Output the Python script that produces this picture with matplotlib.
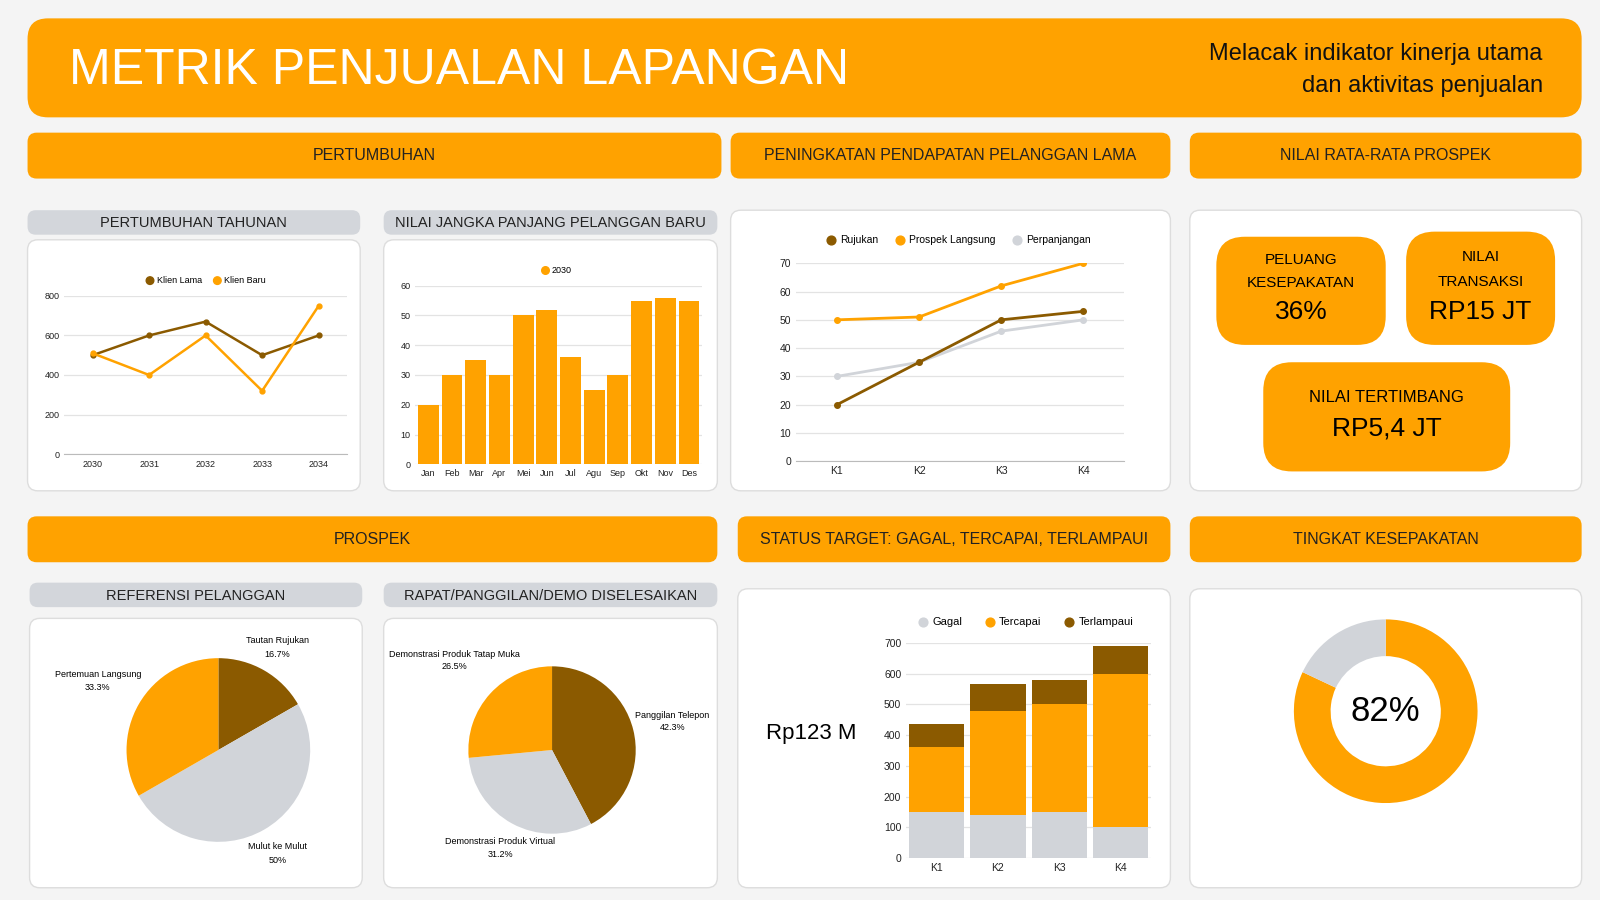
import matplotlib
matplotlib.use("Agg")
import matplotlib.pyplot as plt
from matplotlib.patches import FancyBboxPatch

plt.rcParams['font.family'] = ['Liberation Sans', 'DejaVu Sans']

ORANGE = '#FFA200'
BROWN = '#8B5A00'
GRAY = '#D1D4D9'
BG = '#F4F4F4'

years = ['2030', '2031', '2032', '2033', '2034']
klien_lama = [500, 600, 670, 500, 600]
klien_baru = [510, 400, 600, 320, 750]

months = ['Jan', 'Feb', 'Mar', 'Apr', 'Mei', 'Jun', 'Jul', 'Agu', 'Sep', 'Okt', 'Nov', 'Des']
ltv_2030 = [20, 30, 35, 30, 50, 52, 36, 25, 30, 55, 56, 55]

quarters = ['K1', 'K2', 'K3', 'K4']
rujukan = [20, 35, 50, 53]
prospek_langsung = [50, 51, 62, 70]
perpanjangan = [30, 35, 46, 50]

gagal = [150, 140, 150, 100]
tercapai = [210, 340, 350, 500]
terlampaui = [75, 85, 80, 90]

ref_labels = ['Tautan Rujukan', 'Mulut ke Mulut', 'Pertemuan Langsung']
ref_values = [16.7, 50.0, 33.3]
rapat_labels = ['Panggilan Telepon', 'Demonstrasi Produk Virtual', 'Demonstrasi Produk Tatap Muka']
rapat_values = [42.3, 31.2, 26.5]

deal_rate = 82

W, H = 1568, 882
fig = plt.figure(figsize=(16, 9), dpi=100, facecolor=BG)
ov = fig.add_axes([0, 0, 1, 1], zorder=0)
ov.set_xlim(0, W); ov.set_ylim(H, 0); ov.axis('off')

def box(x0, y0, x1, y1, fc, r=12, ec='none', lw=1):
    ov.add_patch(FancyBboxPatch((x0 + r, y0 + r), x1 - x0 - 2 * r, y1 - y0 - 2 * r,
                                boxstyle=f"round,pad={r}", fc=fc, ec=ec, lw=lw))

def ax_at(x0, y0, x1, y1):
    a = fig.add_axes([x0 / W, 1 - y1 / H, (x1 - x0) / W, (y1 - y0) / H], zorder=2)
    a.set_facecolor('none')
    return a

def style(a):
    for s in ['top', 'right', 'left']:
        a.spines[s].set_visible(False)
    a.spines['bottom'].set_color('#BBBBBB')
    a.tick_params(length=0, labelsize=6.5, colors='#222222')
    a.yaxis.grid(True, color='#E3E3E3', lw=0.9)
    a.set_axisbelow(True)

# header
box(27, 18, 1550, 115, ORANGE, r=20)
ov.text(68, 70, 'METRIK PENJUALAN LAPANGAN', color='white', fontsize=36, va='center')
ov.text(1512, 53, 'Melacak indikator kinerja utama', fontsize=17, ha='right', va='center', color='#111111')
ov.text(1512, 84, 'dan aktivitas penjualan', fontsize=17, ha='right', va='center', color='#111111')

# section headers
for (x0, y0, x1, y1, t) in [(27, 130, 707, 175, 'PERTUMBUHAN'),
                            (716, 130, 1147, 175, 'PENINGKATAN PENDAPATAN PELANGGAN LAMA'),
                            (1166, 130, 1550, 175, 'NILAI RATA-RATA PROSPEK'),
                            (27, 506, 703, 551, 'PROSPEK'),
                            (723, 506, 1147, 551, 'STATUS TARGET: GAGAL, TERCAPAI, TERLAMPAUI'),
                            (1166, 506, 1550, 551, 'TINGKAT KESEPAKATAN')]:
    box(x0, y0, x1, y1, ORANGE, r=9)
    ov.text((x0 + x1) / 2, (y0 + y1) / 2, t, ha='center', va='center', fontsize=11.5, color='#222222')

for (x0, y0, x1, y1, t) in [(27, 206, 353, 230, 'PERTUMBUHAN TAHUNAN'),
                            (376, 206, 703, 230, 'NILAI JANGKA PANJANG PELANGGAN BARU'),
                            (29, 571, 355, 595, 'REFERENSI PELANGGAN'),
                            (376, 571, 703, 595, 'RAPAT/PANGGILAN/DEMO DISELESAIKAN')]:
    box(x0, y0, x1, y1, '#D3D6DB', r=8)
    ov.text((x0 + x1) / 2, (y0 + y1) / 2 + 1, t, ha='center', va='center', fontsize=10.5, color='#222222')

for (x0, y0, x1, y1) in [(27, 235, 353, 481), (376, 235, 703, 481), (716, 206, 1147, 481),
                         (1166, 206, 1550, 481), (29, 606, 355, 870), (376, 606, 703, 870),
                         (723, 577, 1147, 870), (1166, 577, 1550, 870)]:
    box(x0, y0, x1, y1, 'white', r=10, ec='#DDDDDD', lw=1)

# line chart 1
a = ax_at(63, 290, 340, 445)
style(a)
x = range(len(years))
a.plot(x, klien_lama, color=BROWN, marker='o', ms=3.5, lw=1.8)
a.plot(x, klien_baru, color=ORANGE, marker='o', ms=3.5, lw=1.8)
a.set_xlim(-0.5, 4.5); a.set_ylim(0, 800)
a.set_yticks([0, 200, 400, 600, 800]); a.set_xticks(list(x)); a.set_xticklabels(years)
a.tick_params(axis='x', pad=4)
ov.scatter([147, 213], [275, 275], s=30, c=[BROWN, ORANGE])
ov.text(154, 275, 'Klien Lama', fontsize=6.5, va='center')
ov.text(220, 275, 'Klien Baru', fontsize=6.5, va='center')

# bar chart
a = ax_at(407, 280, 688, 455)
style(a)
a.bar(range(len(months)), ltv_2030, color=ORANGE, width=0.88)
a.set_xlim(-0.55, 11.55); a.set_ylim(0, 60)
a.set_yticks(range(0, 61, 10)); a.set_xticks(range(len(months))); a.set_xticklabels(months)
a.spines['bottom'].set_visible(False)
ov.scatter([534], [265], s=30, c=[ORANGE])
ov.text(541, 265, '2030', fontsize=6.5, va='center')

# line chart 2
a = ax_at(780, 258, 1102, 452)
style(a)
x = range(len(quarters))
a.plot(x, perpanjangan, color=GRAY, marker='o', ms=4, lw=2)
a.plot(x, rujukan, color=BROWN, marker='o', ms=4, lw=2)
a.plot(x, prospek_langsung, color=ORANGE, marker='o', ms=4, lw=2)
a.set_xlim(-0.5, 3.5); a.set_ylim(0, 70)
a.set_yticks(range(0, 71, 10)); a.set_xticks(list(x)); a.set_xticklabels(quarters)
a.tick_params(labelsize=7.5)
for cx, c, t in [(814, BROWN, 'Rujukan'), (882, ORANGE, 'Prospek Langsung'), (997, GRAY, 'Perpanjangan')]:
    ov.scatter([cx], [235], s=40, c=[c])
    ov.text(cx + 9, 235, t, fontsize=7.5, va='center')

# KPI boxes
box(1192, 232, 1358, 338, ORANGE, r=28)
ov.text(1275, 255, 'PELUANG', ha='center', va='center', fontsize=11)
ov.text(1275, 277, 'KESEPAKATAN', ha='center', va='center', fontsize=11)
ov.text(1275, 306, '36%', ha='center', va='center', fontsize=19)
box(1378, 227, 1524, 338, ORANGE, r=28)
ov.text(1451, 252, 'NILAI', ha='center', va='center', fontsize=11)
ov.text(1451, 276, 'TRANSAKSI', ha='center', va='center', fontsize=11)
ov.text(1451, 306, 'RP15 JT', ha='center', va='center', fontsize=19)
box(1238, 355, 1480, 462, ORANGE, r=28)
ov.text(1359, 390, 'NILAI TERTIMBANG', ha='center', va='center', fontsize=12)
ov.text(1359, 420, 'RP5,4 JT', ha='center', va='center', fontsize=19)

# pies
def pie_at(cx, cy, r, vals, colors):
    a = ax_at(cx - r, cy - r, cx + r, cy + r)
    a.pie(vals, colors=colors, startangle=90, counterclock=False, radius=1.0)
    a.set_xlim(-1, 1); a.set_ylim(-1, 1); a.set_aspect('auto')
    return a

pie_at(214, 735, 90, ref_values, [BROWN, GRAY, ORANGE])
for (tx, ty, ha), lab, v in zip([(272, 628, 'center'), (272, 830, 'center'), (96, 661, 'center')],
                                ref_labels, ref_values):
    ov.text(tx, ty, lab, fontsize=6.5, ha=ha, va='center')
    ov.text(tx, ty + 13, f'{v:g}%', fontsize=6.5, ha=ha, va='center')

pie_at(541, 735, 82, rapat_values, [BROWN, GRAY, ORANGE])
for (tx, ty), lab, v in zip([(659, 701), (490, 825), (445, 641)], rapat_labels, rapat_values):
    ov.text(tx, ty, lab, fontsize=6.5, ha='center', va='center')
    ov.text(tx, ty + 12, f'{v:g}%', fontsize=6.5, ha='center', va='center')

# stacked bar
a = ax_at(888, 630, 1128, 841)
style(a)
x = list(range(len(quarters)))
b2 = [g + t for g, t in zip(gagal, tercapai)]
a.bar(x, gagal, color=GRAY, width=0.9)
a.bar(x, tercapai, bottom=gagal, color=ORANGE, width=0.9)
a.bar(x, terlampaui, bottom=b2, color=BROWN, width=0.9)
a.set_xlim(-0.5, 3.5); a.set_ylim(0, 700)
a.set_yticks(range(0, 701, 100)); a.set_xticks(x); a.set_xticklabels(quarters)
a.tick_params(labelsize=7.5)
a.spines['bottom'].set_visible(False)
for cx, c, t in [(905, GRAY, 'Gagal'), (970, ORANGE, 'Tercapai'), (1048, BROWN, 'Terlampaui')]:
    ov.scatter([cx], [610], s=40, c=[c])
    ov.text(cx + 9, 610, t, fontsize=8, va='center')
ov.text(795, 719, 'Rp123 M', fontsize=16, ha='center', va='center')

# donut
r = 90
a = ax_at(1358 - r, 697 - r, 1358 + r, 697 + r)
a.pie([deal_rate, 100 - deal_rate], colors=[ORANGE, GRAY], startangle=90, counterclock=False,
      wedgeprops=dict(width=0.4))
a.set_xlim(-1, 1); a.set_ylim(-1, 1); a.set_aspect('auto')
ov.text(1358, 697, f'{deal_rate}%', fontsize=25, ha='center', va='center')

fig.savefig('out.png', dpi=100, facecolor=BG)
